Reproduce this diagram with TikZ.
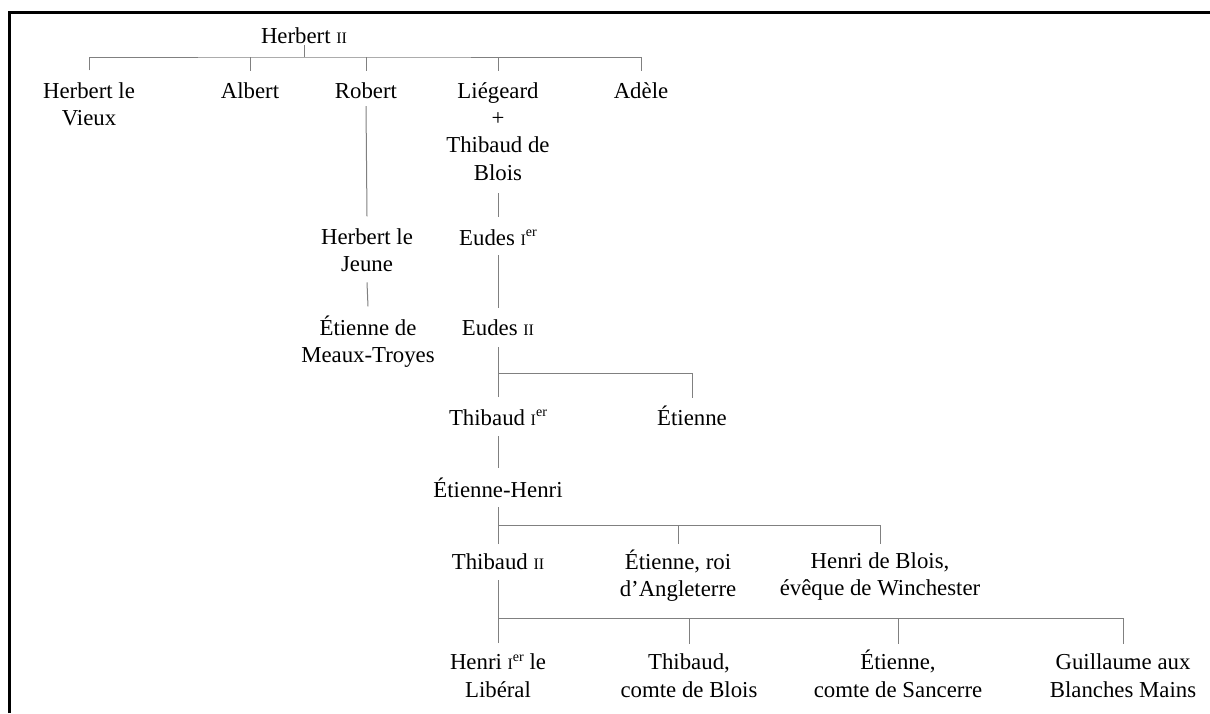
\documentclass[tikz,border=0pt]{standalone}
\usepackage{fontspec}
\setmainfont{Liberation Serif}
\usetikzlibrary{calc}
\newcommand\smc[1]{{\fontsize{16}{16}\selectfont #1}}
\newcommand\expo[1]{\raisebox{0.36em}{\fontsize{14}{14}\selectfont #1}}
\begin{document}
\begin{tikzpicture}[x=1pt,y=-1pt,
  person/.style={anchor=base, align=center, inner sep=0pt, font=\fontsize{22.8}{27.4}\selectfont},
  link/.style={draw=black!50, line width=1pt}]
\useasboundingbox (0,0) rectangle (1210,713);
% frame
\draw[line width=3pt] (9.7,713) -- (9.7,12.5) -- (1210,12.5);
% nodes (anchored at the baseline of their last line)
\node[person] (h2) at (304,43) {Herbert \smc{II}};
\node[person] (hv) at (89,125.4) {Herbert le\\Vieux};
\node[person] (al) at (250,98) {Albert};
\node[person] (ro) at (366,98) {Robert};
\node[person] (li) at (498,180.2) {Liégeard\\+\\Thibaud de\\Blois};
\node[person] (ad) at (641,98) {Adèle};
\node[person] (hj) at (367,271.4) {Herbert le\\Jeune};
\node[person] (e1) at (498,245) {Eudes \smc{I}\expo{er}};
\node[person] (et) at (368,362.4) {Étienne de\\Meaux-Troyes};
\node[person] (e2) at (498,335) {Eudes \smc{II}};
\node[person] (t1) at (498,425) {Thibaud \smc{I}\expo{er}};
\node[person] (es) at (692,425) {Étienne};
\node[person] (eh) at (498,497) {Étienne-Henri};
\node[person] (t2) at (498,569) {Thibaud \smc{II}};
\node[person] (er) at (678,596.4) {Étienne, roi\\d’Angleterre};
\node[person] (hb) at (880,595.4) {Henri de Blois,\\évêque de Winchester};
\node[person] (h1) at (498,697) {Henri \smc{I}\expo{er} le\\Libéral};
\node[person] (tb) at (689,697) {Thibaud,\\comte de Blois};
\node[person] (ec) at (898,697) {Étienne,\\comte de Sancerre};
\node[person] (gu) at (1123,697) {Guillaume aux\\Blanches Mains};
% connectors
\draw[link] ($(h2.base)+(0,2)$) -- ++(0,12) coordinate (j1);
\draw[link] ($(hv.base)+(0,-55)$) |- (j1) -| ($(ad.base)+(0,-27)$);
\draw[link] (j1 -| al.base) -- ($(al.base)+(0,-27)$);
\draw[link] (j1 -| ro.base) -- ($(ro.base)+(0,-27)$);
\draw[link] (j1 -| li.base) -- ($(li.base)+(0,-109)$);
\draw[link] ($(ro.base)+(0,8)$) -- ($(hj.base)+(0,-55)$);
\draw[link] ($(li.base)+(0,13)$) -- ($(e1.base)+(0,-28)$);
\draw[link] ($(hj.base)+(0,11)$) -- ($(et.base)+(0,-56)$);
\draw[link] ($(e1.base)+(0,10)$) -- ($(e2.base)+(0,-27)$);
\draw[link] ($(e2.base)+(0,12)$) -- ++(0,26) coordinate (j2);
\draw[link] ($(t1.base)+(0,-28)$) -- (j2) -| ($(es.base)+(0,-27)$);
\draw[link] ($(t1.base)+(0,11)$) -- ($(eh.base)+(0,-29)$);
\draw[link] ($(eh.base)+(0,10)$) -- ++(0,18) coordinate (j3);
\draw[link] ($(t2.base)+(0,-25)$) -- (j3) -| ($(hb.base)+(0,-51)$);
\draw[link] (j3 -| er.base) -- ($(er.base)+(0,-52)$);
\draw[link] ($(t2.base)+(0,11)$) -- ++(0,38) coordinate (j4);
\draw[link] ($(h1.base)+(0,-54)$) -- (j4) -| ($(gu.base)+(0,-53)$);
\draw[link] (j4 -| tb.base) -- ($(tb.base)+(0,-53)$);
\draw[link] (j4 -| ec.base) -- ($(ec.base)+(0,-53)$);
\end{tikzpicture}
\end{document}
